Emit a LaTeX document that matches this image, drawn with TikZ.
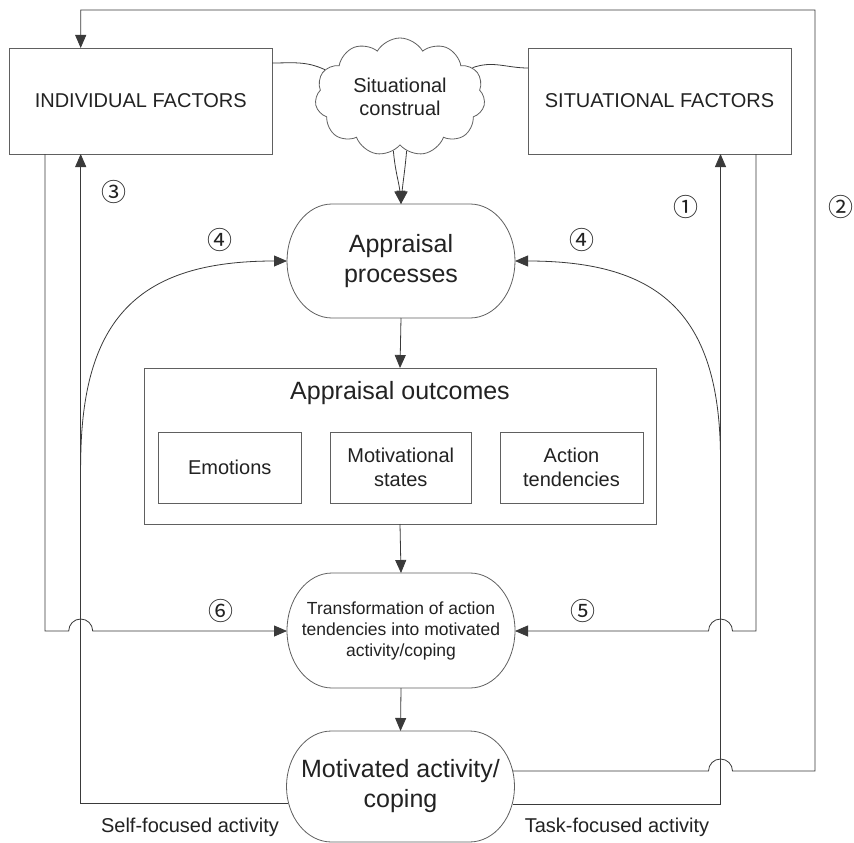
\documentclass[tikz,border=0pt]{standalone}
\usepackage{fontspec}
\setmainfont{Liberation Sans}
\newfontfamily\cjk{Noto Sans CJK SC}
\usetikzlibrary{arrows.meta,shapes.symbols}
\definecolor{ln}{HTML}{3A3A3A}
\definecolor{bx}{HTML}{606060}
\definecolor{tx}{HTML}{222222}
\newcommand\stadiumdraw[2]{\draw[boxline] ([xshift=45pt]#1.north west) -- ([xshift=-45pt]#1.north east) arc[start angle=90,end angle=-90,x radius=45pt,y radius=#2] -- ([xshift=45pt]#1.south west) arc[start angle=270,end angle=90,x radius=45pt,y radius=#2] -- cycle;}
\begin{document}
\begin{tikzpicture}[x=1pt,y=1pt,
  line/.style={draw=ln, line width=0.8pt},
  tip/.style={-{Triangle[length=13pt,width=11pt]}},
  boxline/.style={draw=bx, line width=0.8pt},
  fbox/.style={rectangle, draw=bx, line width=0.8pt, inner sep=0pt, outer sep=0pt, text=tx, align=center, font=\fontsize{20}{24}\selectfont},
  sbox/.style={rectangle, inner sep=0pt, outer sep=0pt, text=tx, align=center},
  lbl/.style={inner sep=0pt, text=tx, font=\cjk\fontsize{25}{25}\selectfont},
  txt/.style={inner sep=0pt, text=tx, font=\fontsize{20}{24}\selectfont}]
\fill[white] (0,0) rectangle (854,-843);
\useasboundingbox (0,0) rectangle (854,-843);

% coordinates of vertical lanes and horizontal levels
\coordinate (xa) at (45,0);
\coordinate (xb) at (80.7,0);
\coordinate (xc) at (720.5,0);
\coordinate (xd) at (756,0);
\coordinate (xe) at (815,0);
\coordinate (ytop) at (0,-10);
\coordinate (ymid) at (0,-631);
\coordinate (yloop) at (0,-771);
\coordinate (yself) at (0,-803);
\coordinate (ytask) at (0,-804);
\coordinate (arcL) at (80.7,-465);
\coordinate (arcR) at (720.5,-460);

% boxes
\node[fbox, minimum width=262.5pt, minimum height=106pt] (indiv) at (140.75,-101) {INDIVIDUAL FACTORS};
\node[fbox, minimum width=263pt, minimum height=106pt] (situ) at (659.5,-101) {SITUATIONAL FACTORS};
\node[cloud, cloud puffs=11, cloud puff arc=120, cloud ignores aspect, draw=bx, line width=0.8pt, fill=white, inner sep=0pt, minimum width=170pt, minimum height=118pt, text=tx, align=center, font=\fontsize{20}{23}\selectfont] (cloud) at (400,-97) {Situational\\construal};

\node[sbox, minimum width=228pt, minimum height=114pt, font=\fontsize{25}{30}\selectfont] (appr) at (401,-261) {Appraisal\\processes};
\stadiumdraw{appr}{57pt}

\node[fbox, minimum width=512pt, minimum height=156pt] (outc) at (400,-446) {};
\node[txt, font=\fontsize{25}{30}\selectfont] (outct) at (400,-393) {Appraisal outcomes};
\node[fbox, minimum width=142.5pt, minimum height=71pt] (emo) at (229.75,-467.5) {Emotions};
\node[fbox, minimum width=140.4pt, minimum height=71pt] (motiv) at (400.8,-467.5) {Motivational\\states};
\node[fbox, minimum width=143pt, minimum height=71pt] (act) at (571.5,-467.5) {Action\\tendencies};

\node[sbox, minimum width=228pt, minimum height=115pt, font=\fontsize{17.5}{21}\selectfont] (trans) at (401,-630.5) {Transformation of action\\tendencies into motivated\\activity/coping};
\stadiumdraw{trans}{57.5pt}

\node[sbox, minimum width=228pt, minimum height=111pt, font=\fontsize{25}{30}\selectfont] (mot) at (400.5,-786.5) {Motivated activity/\\coping};
\stadiumdraw{mot}{55.5pt}

% labels
\node[lbl] (n3) at (114,-192) {③};
\node[lbl] (n1) at (686,-207) {①};
\node[lbl] (n2) at (841,-207) {②};
\node[lbl] (n4a) at (220,-240) {④};
\node[lbl] (n4b) at (582,-240) {④};
\node[lbl] (n6) at (220.5,-611) {⑥};
\node[lbl] (n5) at (583,-611) {⑤};
\node[txt] (self) at (190,-827) {Self-focused activity};
\node[txt] (task) at (617,-827) {Task-focused activity};

% connectors to cloud
\draw[line] ([yshift=-15pt]indiv.north east) to[out=0,in=155] (cloud.160);
\draw[line] ([yshift=-20pt]situ.north west) to[out=180,in=20] (cloud.22);
\draw[line, tip] (cloud.263) to[out=-85,in=95] (appr.north);
\draw[line, tip] (cloud.277) to[out=-95,in=85] (appr.north);

% main vertical flow
\draw[line, tip] (appr.south) -- (outc.north);
\draw[line, tip] (outc.south) -- (trans.north);
\draw[line, tip] (trans.south) -- (mot.north);

% feedback arcs (4)
\draw[line, tip] (arcL) to[out=90,in=180,looseness=1.3] (appr.west);
\draw[line, tip] (arcR) to[out=90,in=0,looseness=1.3] (appr.east);

% self-focused activity -> individual factors (3)
\draw[line, tip] ([xshift=1.5pt]mot.west |- yself) -- (xb |- yself) -- (indiv.south -| xb);
% task-focused activity -> situational factors (1)
\draw[line, tip] ([xshift=-1.5pt]mot.east |- ytask) -- (xc |- ytask) -- (situ.south -| xc);
% individual factors -> transformation (6)
\draw[line, tip] (indiv.south -| xa) -- (xa |- ymid) -- ([xshift=-12pt]xb |- ymid) arc[start angle=180,end angle=0,radius=12pt] -- (trans.west |- ymid);
% situational factors -> transformation (5)
\draw[line, tip] (situ.south -| xd) -- (xd |- ymid) -- ([xshift=12pt]xc |- ymid) arc[start angle=0,end angle=180,radius=12pt] -- (trans.east |- ymid);
% motivated activity -> individual factors (2)
\draw[line, tip] ([xshift=-2pt]mot.east |- yloop) -- ([xshift=-12pt]xc |- yloop) arc[start angle=180,end angle=0,radius=12pt] -- (xe |- yloop) -- (xe |- ytop) -- (xb |- ytop) -- (indiv.north -| xb);
\end{tikzpicture}
\end{document}
